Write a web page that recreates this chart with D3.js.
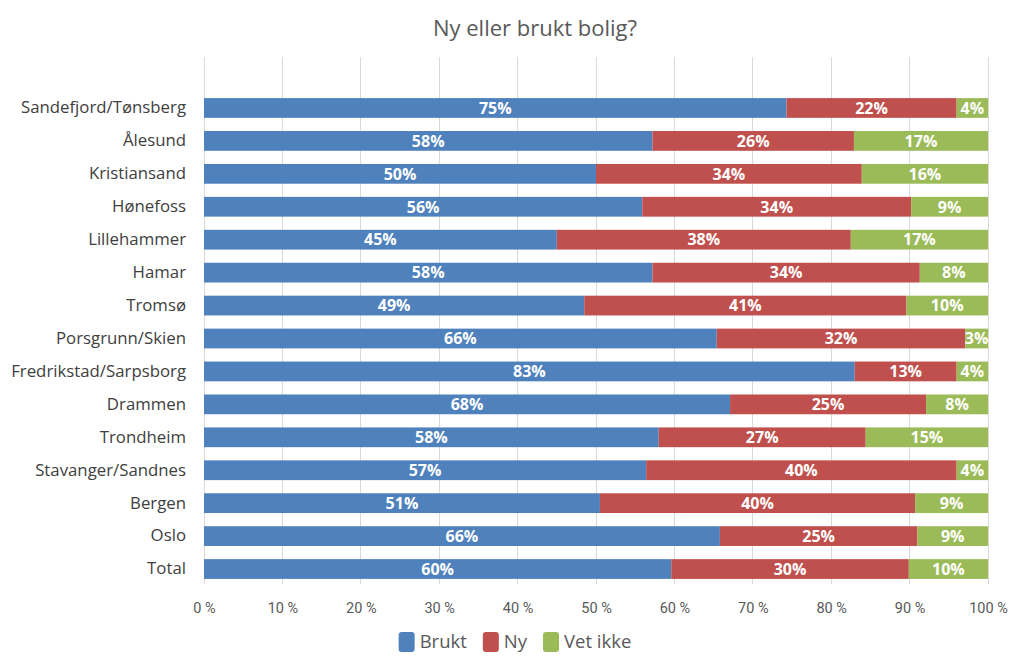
<!DOCTYPE html>
<html>
<head>
<meta charset="utf-8">
<script src="https://cdn.jsdelivr.net/npm/d3@7"></script>
<style>
  html, body { margin: 0; padding: 0; background: #ffffff; }
  svg { display: block; }
</style>
</head>
<body>
<svg id="chart" width="1024" height="669"></svg>
<script>
// ---- Data ----
const categories = [
  "Sandefjord/Tønsberg", "Ålesund", "Kristiansand", "Hønefoss", "Lillehammer",
  "Hamar", "Tromsø", "Porsgrunn/Skien", "Fredrikstad/Sarpsborg", "Drammen",
  "Trondheim", "Stavanger/Sandnes", "Bergen", "Oslo", "Total"
];
const seriesNames = ["Brukt", "Ny", "Vet ikke"];
const seriesColors = ["#4F81BD", "#C0504D", "#9BBB59"];

// bar shares (as drawn)
const brukt   = [74.3, 57.2, 50.0, 55.9, 45.0, 57.2, 48.5, 65.4, 83.0, 67.1, 58.0, 56.4, 50.5, 65.8, 59.6];
const ny      = [21.7, 25.7, 33.9, 34.3, 37.5, 34.1, 41.1, 31.7, 13.0, 25.0, 26.4, 39.6, 40.2, 25.2, 30.3];
const vetIkke = [ 4.0, 17.1, 16.1,  9.8, 17.5,  8.7, 10.4,  2.9,  4.0,  7.9, 15.6,  4.0,  9.3,  9.0, 10.1];

// data labels as printed
const bruktLabels   = [75, 58, 50, 56, 45, 58, 49, 66, 83, 68, 58, 57, 51, 66, 60];
const nyLabels      = [22, 26, 34, 34, 38, 34, 41, 32, 13, 25, 27, 40, 40, 25, 30];
const vetIkkeLabels = [ 4, 17, 16,  9, 17,  8, 10,  3,  4,  8, 15,  4,  9,  9, 10];

const xTicks = [0, 10, 20, 30, 40, 50, 60, 70, 80, 90, 100];
const title = "Ny eller brukt bolig?";

// ---- Build table ----
const values = [brukt, ny, vetIkke];
const labels = [bruktLabels, nyLabels, vetIkkeLabels];
const rows = categories.map((c, i) => {
  const total = brukt[i] + ny[i] + vetIkke[i];
  const r = { cat: c };
  seriesNames.forEach((s, k) => { r[s] = values[k][i] / total * 100; });
  return r;
});
const stacked = d3.stack().keys(seriesNames)(rows);

// ---- Layout ----
const svg = d3.select("#chart");
const plotLeft = 204, plotRight = 988, gridTop = 57, gridBottom = 584;
const x = d3.scaleLinear().domain([0, 100]).range([plotLeft, plotRight]);
const y = d3.scaleBand().domain(categories).range([91.5, 585.5])
  .paddingInner(0.4).paddingOuter(0.2);

const font = "'Open Sans', 'Segoe UI', sans-serif";

// Title
svg.append("text")
  .attr("x", 535).attr("y", 36)
  .attr("text-anchor", "middle")
  .attr("font-family", font)
  .attr("font-size", 22)
  .attr("fill", "#595959")
  .text(title);

// Gridlines
svg.append("g").selectAll("line").data(xTicks).join("line")
  .attr("x1", d => x(d)).attr("x2", d => x(d))
  .attr("y1", gridTop).attr("y2", gridBottom)
  .attr("stroke", "#D9D9D9").attr("stroke-width", 1)
  .attr("shape-rendering", "crispEdges");

// X axis tick labels
const xAxis = d3.axisBottom(x).tickValues(xTicks).tickSize(0).tickPadding(0)
  .tickFormat(d => d + " %");
const gx = svg.append("g").attr("transform", `translate(0, ${gridBottom + 29})`).call(xAxis);
gx.select(".domain").remove();
gx.selectAll("text")
  .attr("font-family", "Roboto, sans-serif")
  .attr("font-size", 14.5)
  .attr("fill", "#595959")
  .attr("dy", 0);

// Y axis labels
const yAxis = d3.axisLeft(y).tickSize(0).tickPadding(18);
const gy = svg.append("g").attr("transform", `translate(${plotLeft}, 0)`).call(yAxis);
gy.select(".domain").remove();
gy.selectAll("text")
  .attr("font-family", font)
  .attr("font-size", 16.8)
  .attr("fill", "#404040");

// Y axis line
svg.append("line")
  .attr("x1", plotLeft).attr("x2", plotLeft)
  .attr("y1", gridTop).attr("y2", gridBottom)
  .attr("stroke", "#D9D9D9").attr("shape-rendering", "crispEdges");

// Bars
const layers = svg.append("g").selectAll("g").data(stacked).join("g")
  .attr("fill", (d, k) => seriesColors[k]);
layers.selectAll("rect").data(d => d).join("rect")
  .attr("x", d => x(d[0]))
  .attr("width", d => x(d[1]) - x(d[0]))
  .attr("y", d => y(d.data.cat))
  .attr("height", y.bandwidth());

// Data labels
const lbl = svg.append("g");
stacked.forEach((layer, k) => {
  lbl.selectAll(null).data(layer).join("text")
    .attr("x", d => (x(d[0]) + x(d[1])) / 2)
    .attr("y", d => y(d.data.cat) + y.bandwidth() / 2)
    .attr("dy", "0.36em")
    .attr("text-anchor", "middle")
    .attr("font-family", font)
    .attr("font-weight", "bold")
    .attr("font-size", 16)
    .attr("fill", "#ffffff")
    .text((d, i) => labels[k][i] + "%");
});

// Legend
const legend = svg.append("g");
let lx = 0;
const items = [];
seriesNames.forEach((s, k) => {
  const g = legend.append("g");
  g.append("rect").attr("x", 0).attr("y", -10).attr("width", 16).attr("height", 20)
    .attr("rx", 3).attr("fill", seriesColors[k]);
  const t = g.append("text").attr("x", 21).attr("y", 0).attr("dy", "0.35em")
    .attr("font-family", font).attr("font-size", 18.5).attr("fill", "#595959").text(s);
  const w = 21 + t.node().getComputedTextLength();
  items.push({ g, w });
});
const gap = 16;
const totalW = d3.sum(items, d => d.w) + gap * (items.length - 1);
lx = 515 - totalW / 2;
items.forEach(it => { it.g.attr("transform", `translate(${lx}, 642)`); lx += it.w + gap; });
</script>
</body>
</html>
